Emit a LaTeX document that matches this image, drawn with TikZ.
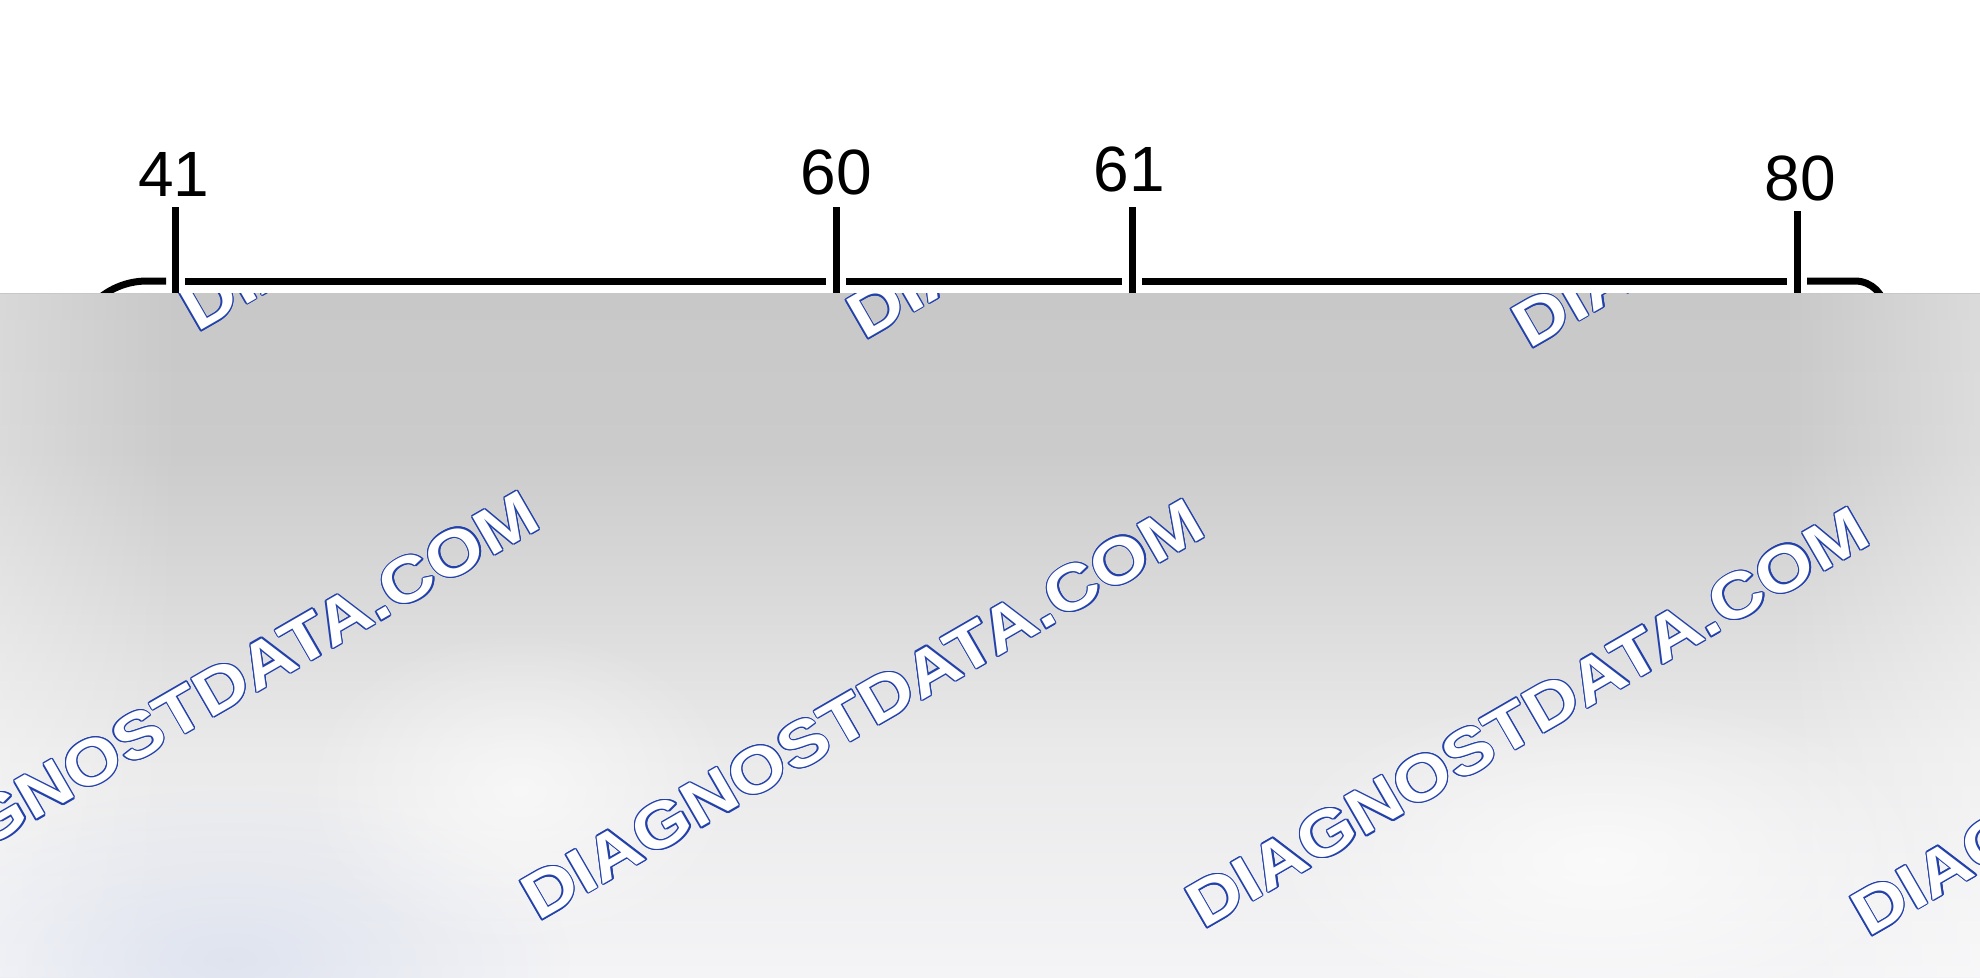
\documentclass[tikz,border=0pt]{standalone}
\usepackage{fontspec}
\setmainfont{Liberation Sans}
\newfontfamily\wmfont{Liberation Sans}
\usetikzlibrary{fadings}
\definecolor{wmblue}{RGB}{35,65,170}
\definecolor{gA}{RGB}{200,200,200}
\definecolor{gB}{RGB}{203,203,203}
\definecolor{gC}{RGB}{218,218,218}
\definecolor{gD}{RGB}{234,234,235}
\definecolor{gE}{RGB}{244,244,246}
\definecolor{blobblue}{RGB}{218,224,238}
\pgfdeclareverticalshading{bgshade}{100bp}{color(0bp)=(gE); color(25bp)=(gE); color(41.5bp)=(gD); color(52.5bp)=(gC); color(63.5bp)=(gB); color(75bp)=(gA); color(100bp)=(gA)}
\tikzfading[name=fadeR, left color=transparent!0, right color=transparent!100]
\tikzfading[name=fadeL, left color=transparent!100, right color=transparent!0]
\tikzfading[name=softdot, inner color=transparent!0, outer color=transparent!100]
\newcommand\wmtext{DIAGNOSTDATA.COM}
\newcommand\wmark[3]{%
  \foreach \a in {0,30,...,330}{\node[wmout] at ([shift={(\a:1.3)}]#2,#3) {\wmtext};}
  \node[wmin] (#1) at (#2,#3) {\wmtext};}
\begin{document}
\begin{tikzpicture}[x=1pt,y=-1pt,
  conn/.style={line width=7pt, line cap=butt, black},
  pinlabel/.style={font=\fontsize{64}{64}\selectfont, inner sep=0pt, anchor=base, text=black},
  wmbase/.style={font=\wmfont\bfseries\fontsize{64}{64}\selectfont, anchor=base west, inner sep=0pt, rotate=30, xscale=1.15},
  wmout/.style={wmbase, text=wmblue},
  wmin/.style={wmbase, text=white}]
\useasboundingbox (0,0) rectangle (1980,977);
\fill[white] (0,0) rectangle (1980,977);

% pin labels
\node[pinlabel] (p41) at (174,196) {41};
\node[pinlabel] (p60) at (836,194) {60};
\node[pinlabel] (p61) at (1129,191) {61};
\node[pinlabel] (p80) at (1800,200) {80};

% tick coordinates
\coordinate (t41a) at (175,207);  \coordinate (t41b) at (175,320);
\coordinate (t60a) at (836,207);  \coordinate (t60b) at (836,320);
\coordinate (t61a) at (1132,207); \coordinate (t61b) at (1132,320);
\coordinate (t80a) at (1797,211); \coordinate (t80b) at (1797,320);

% connector outline
\draw[conn, rounded corners=75pt] (72,420) -- (72,281) -- (166,281);
\draw[conn] (185,281) -- (826,281);
\draw[conn] (846,281) -- (1122,281);
\draw[conn] (1142,281) -- (1787,281);
\draw[conn, rounded corners=30pt] (1807,281) -- (1885,281) -- (1885,420);
\draw[conn] (t41a) -- (t41b);
\draw[conn] (t60a) -- (t60b);
\draw[conn] (t61a) -- (t61b);
\draw[conn] (t80a) -- (t80b);

% grey overlay
\shade[shading=bgshade] (0,293) rectangle (1980,977);
\fill[white, opacity=0.3, path fading=fadeR] (0,293) rectangle (180,977);
\fill[white, opacity=0.35, path fading=fadeL] (1780,293) rectangle (1980,977);
\fill[blobblue, opacity=0.8, path fading=softdot] (230,960) ellipse [x radius=340, y radius=170];
\fill[white, opacity=0.6, path fading=softdot] (520,790) ellipse [x radius=220, y radius=160];
\fill[white, opacity=0.7, path fading=softdot] (1600,860) ellipse [x radius=340, y radius=170];

% watermarks
\begin{scope}
\clip (0,293) rectangle (1980,977);
\wmark{wa}{197}{333}
\wmark{wb}{864}{341}
\wmark{wc}{1529}{350}
\wmark{wd}{-127}{914}
\wmark{we}{538}{922}
\wmark{wf}{1203}{930}
\wmark{wg}{1868}{938}
\end{scope}
\end{tikzpicture}
\end{document}
